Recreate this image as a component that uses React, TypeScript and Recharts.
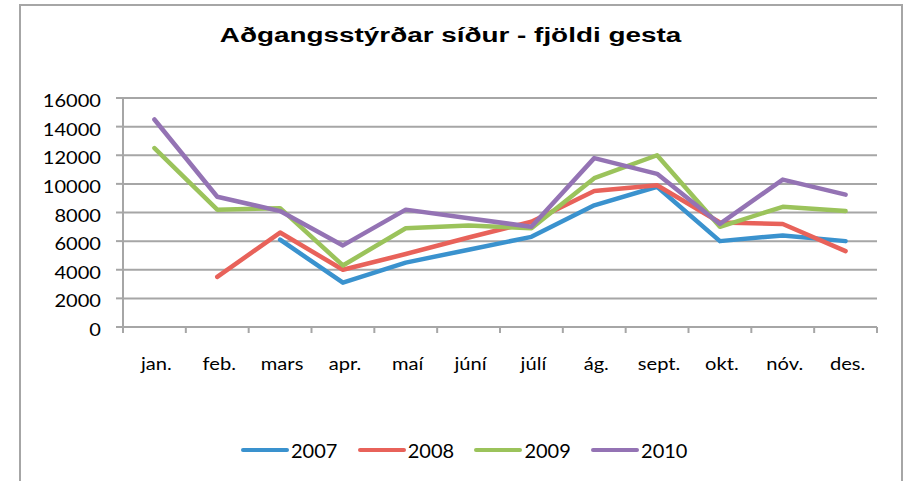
import { LineChart, Line, XAxis, YAxis, CartesianGrid, Legend } from "recharts";

const months = ["jan.", "feb.", "mars", "apr.", "maí", "júní", "júlí", "ág.", "sept.", "okt.", "nóv.", "des."];
const v2007 = [null, null, 6100, 3100, 4500, 5400, 6300, 8500, 9800, 6000, 6400, 6000];
const v2008 = [null, 3500, 6600, 4000, 5100, 6250, 7350, 9500, 9900, 7300, 7200, 5300];
const v2009 = [12500, 8200, 8300, 4300, 6900, 7100, 6900, 10400, 12000, 7000, 8400, 8100];
const v2010 = [14500, 9100, 8100, 5700, 8200, 7600, 7000, 11800, 10700, 7200, 10300, 9250];
const yTicks = [0, 2000, 4000, 6000, 8000, 10000, 12000, 14000, 16000];

const series = [
  { key: "2007", color: "#3a92ce" },
  { key: "2008", color: "#e8625a" },
  { key: "2009", color: "#9bc35b" },
  { key: "2010", color: "#9473b4" },
];

const data = months.map((m, i) => ({
  month: m,
  "2007": v2007[i],
  "2008": v2008[i],
  "2009": v2009[i],
  "2010": v2010[i],
}));

const W = 906;
const H = 481;
const PLOT_LEFT = 123;
const PLOT_RIGHT = 877;
const GRAY = "#a6a6a6";
const HALF_BAND = (PLOT_RIGHT - PLOT_LEFT) / months.length / 2;

const XTick = (props: any) => {
  const { x, y, payload, index } = props;
  return (
    <g>
      <line x1={x - HALF_BAND} y1={y} x2={x - HALF_BAND} y2={y + 6} stroke={GRAY} strokeWidth={2} />
      {index === months.length - 1 && (
        <line x1={x + HALF_BAND} y1={y} x2={x + HALF_BAND} y2={y + 6} stroke={GRAY} strokeWidth={2} />
      )}
      <text
        transform={`translate(${x + 2},${y + 43}) scale(1.22,1)`}
        textAnchor="middle"
        fontFamily="Lato"
        fontSize={16.5}
        fill="#000"
      >
        {payload.value}
      </text>
    </g>
  );
};

const YTick = (props: any) => {
  const { x, y, payload } = props;
  return (
    <text
      transform={`translate(${x},${y + 9}) scale(1.23,1)`}
      textAnchor="end"
      fontFamily="Lato"
      fontSize={16.3}
      fill="#000"
    >
      {payload.value}
    </text>
  );
};

const renderLegend = (props: any) => (
  <div style={{ display: "flex", paddingLeft: 241, height: 26, alignItems: "center", fontFamily: "Lato", fontSize: 20 }}>
    {props.payload.map((p: any) => (
      <div key={p.value} style={{ width: 116.7, display: "flex", alignItems: "center" }}>
        <svg width={50} height={8}>
          <line x1={2} y1={4} x2={46} y2={4} stroke={p.color} strokeWidth={4} strokeLinecap="round" />
        </svg>
        <span style={{ color: "#000" }}>{p.value}</span>
      </div>
    ))}
  </div>
);

export default function App() {
  return (
    <div style={{ position: "absolute", left: 0, top: 0, width: W, height: H, background: "#fff" }}>
      <svg width={W} height={H} style={{ position: "absolute", left: 0, top: 0 }}>
        <polyline points={`20,${H + 5} 20,5 902,5 902,${H + 5}`} fill="none" stroke={GRAY} strokeWidth={2} />
        <text
          transform="translate(450.5,42) scale(1.36,1)"
          textAnchor="middle"
          fontFamily="Liberation Sans"
          fontWeight="bold"
          fontSize={20.5}
          fill="#000"
        >
          Aðgangsstýrðar síður - fjöldi gesta
        </text>
      </svg>
      <LineChart
        width={W}
        height={H}
        data={data}
        margin={{ top: 98, right: W - PLOT_RIGHT, bottom: 104, left: 0 }}
      >
        <CartesianGrid vertical={false} stroke={GRAY} strokeWidth={2} />
        <XAxis
          dataKey="month"
          interval={0}
          height={50}
          padding={{ left: HALF_BAND, right: HALF_BAND }}
          tickLine={false}
          tickSize={0}
          tickMargin={0}
          axisLine={{ stroke: GRAY, strokeWidth: 2 }}
          tick={<XTick />}
        />
        <YAxis
          width={PLOT_LEFT}
          domain={[0, 16000]}
          ticks={yTicks}
          interval={0}
          tickSize={7}
          tickMargin={15}
          tickLine={{ stroke: GRAY, strokeWidth: 2 }}
          axisLine={{ stroke: GRAY, strokeWidth: 2 }}
          tick={<YTick />}
        />
        <Legend
          layout="horizontal"
          verticalAlign="middle"
          align="center"
          wrapperStyle={{ top: 437, left: 0, width: W }}
          content={renderLegend}
        />
        {series.map((s) => (
          <Line
            key={s.key}
            type="linear"
            dataKey={s.key}
            name={s.key}
            stroke={s.color}
            strokeWidth={4.5}
            strokeLinecap="round"
            strokeLinejoin="round"
            dot={false}
            activeDot={false}
            isAnimationActive={false}
          />
        ))}
      </LineChart>
    </div>
  );
}
